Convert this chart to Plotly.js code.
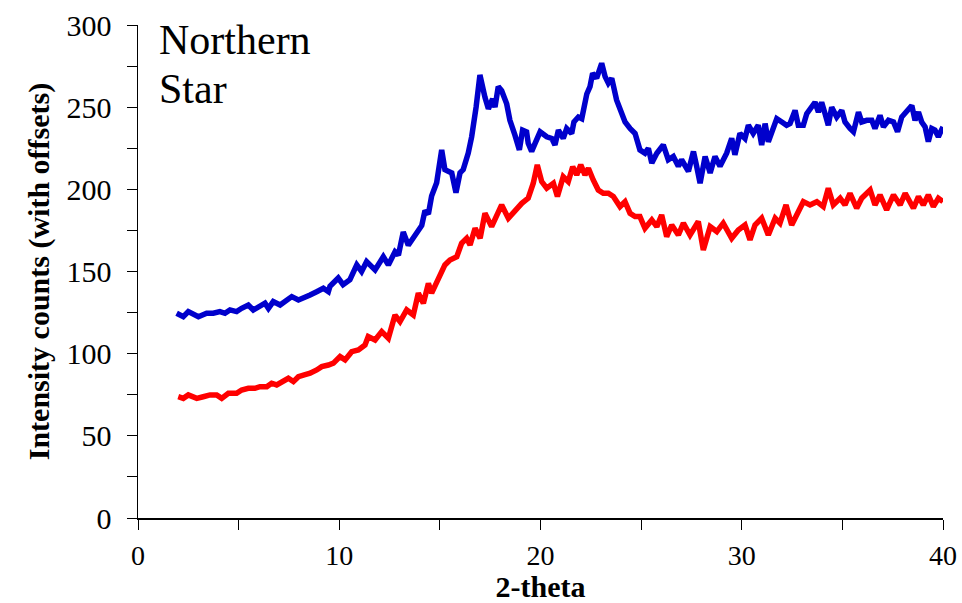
<!DOCTYPE html>
<html>
<head>
<meta charset="utf-8">
<script src="https://cdn.plot.ly/plotly-3.0.1.min.js"></script>
<style>html,body{margin:0;padding:0;background:#fff;}#chart{width:962px;height:603px;}</style>
</head>
<body>
<div id="chart"></div>
<script>
// Blue series (upper, with offset)
const blueX = [1.92,2.25,2.5,3.0,3.41,3.74,4.07,4.32,4.57,4.9,5.15,5.48,5.73,6.06,6.31,6.48,6.72,7.06,7.3,7.64,7.97,8.22,8.55,8.88,9.21,9.46,9.54,9.95,10.19,10.53,10.87,11.11,11.36,11.78,12.19,12.44,12.77,12.94,13.18,13.43,13.84,14.10,14.26,14.43,14.59,14.84,15.09,15.25,15.59,15.80,16.0,16.16,16.41,16.58,16.8,16.99,17.24,17.41,17.62,17.74,17.9,18.07,18.32,18.48,18.73,18.95,19.11,19.31,19.39,19.56,19.73,19.98,20.31,20.56,20.72,20.89,21.13,21.3,21.55,21.66,21.88,22.05,22.3,22.46,22.59,22.79,23.04,23.21,23.37,23.54,23.78,23.95,24.2,24.45,24.7,24.94,25.19,25.36,25.53,25.78,26.1,26.35,26.6,26.85,27.01,27.35,27.6,27.76,27.93,28.18,28.43,28.67,28.92,29.25,29.5,29.66,29.91,30.16,30.33,30.57,30.82,30.99,31.16,31.32,31.57,31.74,31.99,32.23,32.4,32.65,32.81,33.06,33.23,33.48,33.64,33.81,33.97,34.14,34.3,34.47,34.72,34.97,35.13,35.38,35.55,35.8,35.96,36.21,36.46,36.62,36.87,37.04,37.29,37.54,37.74,37.95,38.2,38.45,38.61,38.78,38.94,39.11,39.27,39.44,39.6,39.77,40.0];
const blueY = [124.6,122.5,125.6,122.5,124.6,124.6,125.6,124.6,126.6,125.6,127.6,129.6,126.6,128.6,130.7,127.6,131.7,129.6,131.7,134.7,132.7,133.7,135.7,137.7,139.8,137.7,141,146,142,145,154,150,156,151,159,154,162,160,174,166,173,178,187,185,196,204,224,212,210,198,210,212,222,232,250,269.6,256,249,255,250,262.5,260,252,242,233,224,236,235,228,223,228,235,232,231,227,236,231,237,234,241,244,243,258,262.5,270.6,267.6,276.7,268.6,264.6,267.6,254.4,249.4,241,237,234,224,222,225,216,222,227,218,220,214,218,211,223,214,203.7,220,210,220,214,222,231,221,234,231,239,234,239,227,240,229,238,243,241,239,240,248,239,239,246,250,253,247,253,246,239,250,244,248,241,237,235,247,241,242,242,237,245,238,242,241,235,244,247,251,242,247,241,238,229,237,236,232,238];

// Red series (lower)
const redX = [2.0,2.25,2.5,2.92,3.24,3.58,3.91,4.16,4.49,4.9,5.15,5.48,5.81,6.06,6.4,6.64,6.89,7.22,7.47,7.72,7.97,8.22,8.55,8.88,9.13,9.46,9.71,10.04,10.29,10.62,10.95,11.28,11.44,11.78,12.11,12.44,12.77,13.02,13.35,13.68,13.93,14.18,14.43,14.59,14.84,15.25,15.5,15.84,16.08,16.33,16.5,16.75,17.0,17.24,17.57,17.9,18.07,18.4,18.73,19.07,19.39,19.64,19.84,20.06,20.31,20.64,20.84,21.13,21.38,21.6,21.8,22.0,22.21,22.38,22.62,22.87,23.12,23.37,23.62,23.95,24.2,24.45,24.7,24.94,25.19,25.53,25.78,26.02,26.27,26.52,26.85,27.1,27.43,27.84,28.09,28.43,28.76,29.08,29.5,29.83,30.16,30.41,30.66,30.99,31.32,31.66,31.9,32.2,32.48,32.81,33.06,33.39,33.73,34.05,34.3,34.55,34.89,35.13,35.38,35.71,35.96,36.38,36.62,36.87,37.2,37.54,37.87,38.12,38.53,38.78,39.02,39.27,39.52,39.77,40.0];
const redY = [73.8,72.8,74.9,72.8,73.8,74.9,74.9,72.8,75.9,75.9,77.9,78.9,78.9,79.9,79.9,82.0,81.0,83.0,85.0,83.0,86.0,87.0,88.1,90.1,92.1,93.1,94.2,98.2,96.2,101.2,102.3,105.3,110.4,108.3,113.4,109.4,123.5,119.5,126.6,123.5,136.8,130.7,142.8,136.8,143.8,154.0,157.0,159.0,167.2,170.2,166.2,176.3,170.2,185.4,177.3,187.5,190.5,182.4,187.5,191.5,194.6,203.7,214.9,204.7,200.7,203.7,195.6,207.7,204.7,213.8,208.8,214.9,208.8,212.8,205.7,199.6,197.6,197.6,195.6,189.5,192.5,185.4,183.4,183.4,176.3,181.4,177.3,184.4,171.2,178.3,172.2,179.4,172.2,180.4,163.1,177.3,174.3,179.4,170.2,175.3,178.3,169.2,178.3,182.4,172.2,182.4,179.4,190.5,178.3,186.5,192.5,190.5,192.5,189.5,200.7,190.5,194.6,190.5,197.6,188.5,194.6,199.6,190.5,196.6,187.5,196.6,190.5,197.6,188.5,195.6,190.5,196.6,189.5,194.6,192.5];

const xTickVals = [0,10,20,30,40];
const yTickVals = [0,50,100,150,200,250,300];
const labelLines = ['Northern', 'Star'];
const xTitle = '2-theta';
const yTitle = 'Intensity counts (with offsets)';

const serif = 'Liberation Serif, Times New Roman, serif';

const traces = [
  {x: blueX, y: blueY, type: 'scatter', mode: 'lines', line: {color: '#0000CC', width: 5.5}, showlegend: false, hoverinfo: 'skip'},
  {x: redX, y: redY, type: 'scatter', mode: 'lines', line: {color: '#FF0000', width: 5.5}, showlegend: false, hoverinfo: 'skip'}
];

const labelY = [0.9696, 0.870];

const layout = {
  width: 962, height: 603,
  margin: {l: 138, r: 19, t: 25, b: 85},
  paper_bgcolor: '#fff', plot_bgcolor: '#fff',
  font: {family: serif, color: '#000'},
  xaxis: {
    range: [0, 40], tickvals: xTickVals, showgrid: false, zeroline: false,
    showline: true, linecolor: '#000', linewidth: 1.5,
    ticks: 'outside', ticklen: 10, tickwidth: 1, tickcolor: '#000',
    minor: {dtick: 5, ticks: 'outside', ticklen: 10, tickcolor: '#000', tickwidth: 1, showgrid: false},
    tickfont: {family: serif, size: 28, color: '#000'},
    ticklabelstandoff: 2,
    title: {text: xTitle, font: {family: serif, size: 30, color: '#000', weight: 'bold'}, standoff: 5}
  },
  yaxis: {
    range: [0, 300], tickvals: yTickVals, showgrid: false, zeroline: false,
    showline: true, linecolor: '#000', linewidth: 1.5,
    ticks: 'outside', ticklen: 10, tickwidth: 1, tickcolor: '#000',
    minor: {dtick: 25, ticks: 'outside', ticklen: 10, tickcolor: '#000', tickwidth: 1, showgrid: false},
    tickfont: {family: serif, size: 30, color: '#000'},
    ticklabelstandoff: 9,
    title: {text: yTitle, font: {family: serif, size: 30, color: '#000', weight: 'bold'}, standoff: 8}
  },
  annotations: labelLines.map((t, i) => ({
    text: t, xref: 'paper', yref: 'paper', x: 0.024, y: labelY[i],
    xanchor: 'left', yanchor: 'middle', align: 'left', showarrow: false,
    font: {family: serif, size: 42, color: '#000'}
  }))
};

Plotly.newPlot('chart', traces, layout, {displayModeBar: false, staticPlot: true});
</script>
</body>
</html>
